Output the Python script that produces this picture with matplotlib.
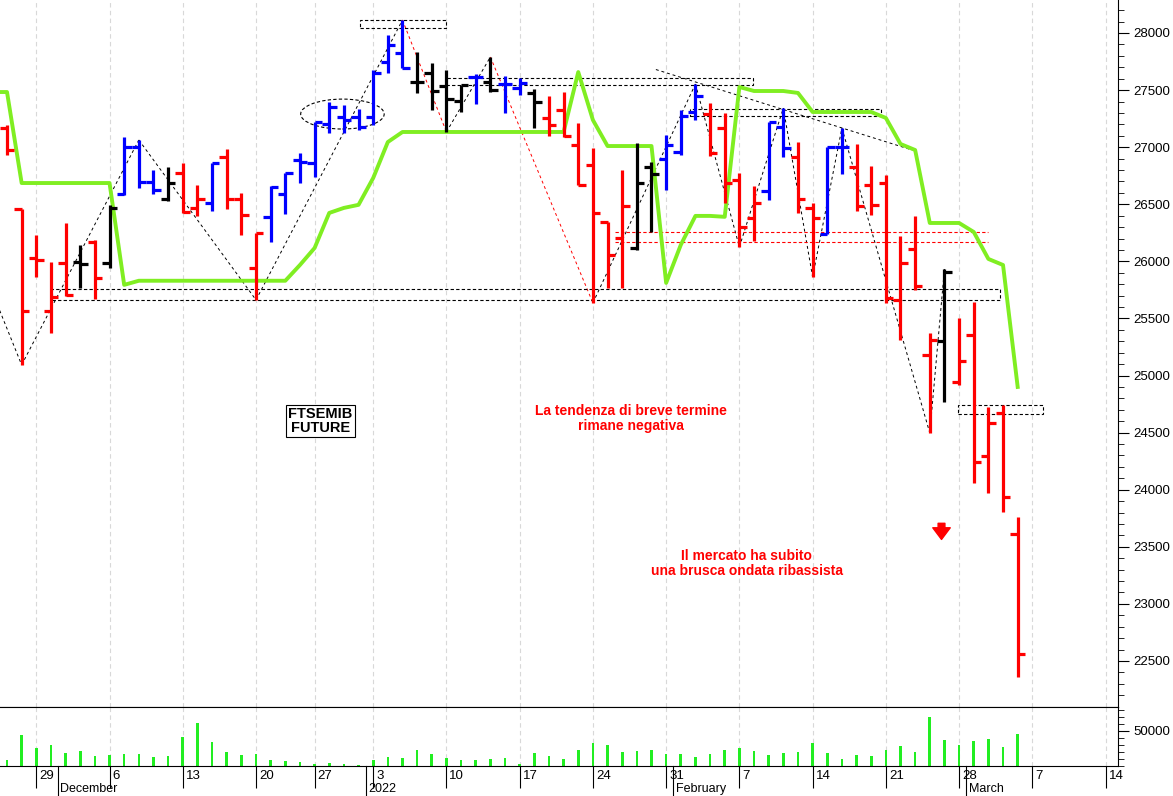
import matplotlib
matplotlib.use("Agg")
import matplotlib.pyplot as plt
from matplotlib.patches import Ellipse, Rectangle
from matplotlib.transforms import blended_transform_factory
import matplotlib.transforms as mt
import numpy as np

plt.rcParams['font.family'] = ['Liberation Sans', 'DejaVu Sans']

opens = [27168,26459,26030,25566,25986,25990,26170,25986,26590,27000,26695,26545,26774,26468,26511,26914,26546,25942,26389,26590,
         26888,26862,27203,27260,27260,27265,27746,27825,27571,27650,27536,27405,27615,27571,27553,27518,27475,27256,27326,27019,
         26844,26345,26205,26117,26827,26897,26958,27308,27291,27168,26713,26380,26616,27177,26914,26468,26240,27002,26827,26669,
         26686,25662,26109,25181,25303,24944,25356,24296,24673,23613]
highs = [27194,26459,26231,25995,26336,26144,26187,26494,27089,27063,26800,26827,26862,26669,26862,26984,26599,26249,26660,26774,
         26949,27221,27396,27370,27330,27676,27982,28114,27834,27737,27676,27545,27641,27790,27623,27606,27510,27448,27483,27212,
         26993,26345,26800,27037,26870,27107,27326,27553,27387,27300,26774,26660,27221,27343,27045,26511,27002,27168,27028,26835,
         26756,26222,26398,25373,25933,25504,25645,24725,24743,23762]
lows = [26932,25093,25863,25373,25697,25767,25671,25942,26581,26643,26590,26529,26424,26400,26441,26459,26231,25662,26170,26415,
        26687,26739,27124,27124,27150,27195,27650,27694,27475,27326,27133,27308,27378,27483,27300,27457,27168,27098,27089,26669,
        25636,25767,25767,26100,26257,26625,26932,27238,26923,26511,26126,26179,26537,26914,26424,25863,26240,26765,26441,26406,
        25636,25312,25750,24497,24769,24918,24060,23972,23806,22360]
closes = [26975,25566,26010,25688,25706,25975,25855,26468,27002,26695,26625,26687,26430,26546,26862,26546,26406,26249,26651,26774,
          26870,27221,27352,27240,27180,27650,27895,27694,27571,27492,27422,27545,27615,27500,27553,27562,27396,27194,27098,26669,
          26424,26056,26485,26686,26765,27019,27273,27448,26949,26686,26301,26511,27221,26993,26546,26380,27002,27002,26485,26494,
          25680,25986,25785,25312,25907,25128,24243,24585,23937,22562]
bar_colors = (['red']*5 + ['black','red','black'] + ['blue']*3 + ['black','red','red','blue','red','red','red']
              + ['blue']*10 + ['black']*4 + ['blue','black','blue','blue','black'] + ['red']*6 + ['black','black']
              + ['blue']*3 + ['red']*4 + ['blue','blue','red','red','blue','blue'] + ['red']*6 + ['black'] + ['red']*5)
green_line = [27483,26686,26686,26686,26686,26686,26686,26686,25794,25830,25830,25830,25830,25830,25830,25830,25830,25830,25830,25830,
              25968,26117,26424,26468,26495,26730,27045,27133,27133,27133,27133,27133,27133,27133,27133,27133,27133,27133,27133,27658,
              27238,27010,27010,27010,27010,25811,26144,26398,26398,26390,27527,27492,27492,27492,27475,27308,27308,27308,27308,27308,
              27256,27028,26975,26336,26336,26336,26257,26021,25968,24900]
vol_px = [180,105,145,135,160,153,168,167,162,162,172,170,112,68,128,156,166,163,180,183,
          188,192,190,194,195,181,172,176,150,163,176,180,181,177,175,192,160,168,178,150,
          130,135,157,153,150,163,162,172,162,150,145,155,167,160,157,130,160,178,167,168,
          150,138,158,50,120,135,123,118,142,103]
volumes = [(198 - v) * 476 for v in vol_px]

tick_idx = [2,7,12,17,21,25,30,35,40,45,50,55,60,65,70,75]
tick_labels = ['29','6','13','20','27','3','10','17','24','31','7','14','21','28','7','14']
month_idx = [4,25,46,66]
month_labels = ['December','2022','February','March']

pivots = [(1,'L'),(9,'H'),(17,'L'),(27,'H'),(30,'L'),(33,'H'),(40,'L'),(47,'H'),(50,'L'),(53,'H'),(55,'L'),(57,'H'),(63,'L'),(64,'H')]
seg_red = {4,6}

fig = plt.figure(figsize=(11.73,7.96), dpi=100)
ax = fig.add_axes([0,0.112,0.953,0.888])
axv = fig.add_axes([0,0.038,0.953,0.074], sharex=ax)

x = np.arange(len(opens))
tw = 0.5
for i in x:
    c = bar_colors[i]
    ax.plot([i,i],[lows[i],highs[i]],color=c,lw=2.3,solid_capstyle='butt',zorder=4)
    ax.plot([i-tw,i],[opens[i],opens[i]],color=c,lw=2.3,solid_capstyle='butt',zorder=4)
    ax.plot([i,i+tw],[closes[i],closes[i]],color=c,lw=2.3,solid_capstyle='butt',zorder=4)

ax.plot(np.concatenate([[-0.5],x]), [green_line[0]]+green_line, color='#80ee22', lw=2.8, zorder=3)

px = [-0.5]; py=[25570]
for (i,t) in pivots:
    px.append(i); py.append(lows[i] if t=='L' else highs[i])
for k in range(len(px)-1):
    col = 'red' if k in seg_red else 'black'
    ax.plot(px[k:k+2], py[k:k+2], color=col, lw=0.7, ls=(0,(3,3)), zorder=2)
ax.plot([44.3,61.8],[27680,26975],color='black',lw=0.7,ls=(0,(3,3)),zorder=2)

def hbox(x0,x1,y0,y1,col='black'):
    ax.add_patch(Rectangle((x0,y0),x1-x0,y1-y0,fill=False,ec=col,lw=0.8,ls=(0,(3,2)),zorder=2))
hbox(24.1,30.0,28044,28114)
hbox(30.0,50.9,27541,27606)
hbox(46.6,59.7,27273,27335)
hbox(3.1,67.8,25662,25758)
ax.plot([41.5,67.0],[26257,26257],color='red',lw=0.8,ls=(0,(3,2)))
ax.plot([41.5,67.0],[26170,26170],color='red',lw=0.8,ls=(0,(3,2)))
hbox(64.9,70.7,24665,24743)
ax.add_patch(Ellipse((22.9,27290),5.7,262,fill=False,ec='black',lw=0.8,ls=(0,(3,2))))

ax.text(21.4,24600,'FTSEMIB\nFUTURE',ha='center',va='center',fontsize=10.5,fontweight='bold',
        linespacing=1.0,bbox=dict(fc='white',ec='black',lw=0.8,pad=1.5))
ax.text(42.6,24620,'La tendenza di breve termine\nrimane negativa',ha='center',va='center',color='red',
        fontsize=10,fontweight='bold',linespacing=1.1)
ax.text(50.5,23350,'Il mercato ha subito\nuna brusca ondata ribassista',ha='center',va='center',color='red',
        fontsize=10,fontweight='bold',linespacing=1.1)
ax.annotate('',xy=(63.8,23540),xytext=(63.8,23730),arrowprops=dict(arrowstyle='simple,head_width=0.9,head_length=0.6,tail_width=0.35',color='red',mutation_scale=14))

ax.set_xlim(-0.478,75.84)
ax.set_ylim(22098,28289)
ax.yaxis.tick_right()
ax.set_yticks(np.arange(22500,28001,500))
ax.set_yticks(np.arange(22200,28300,100),minor=True)
ax.tick_params(axis='y',which='major',length=8,labelsize=9.5,pad=3)
ax.tick_params(axis='y',which='minor',length=4)
ax.tick_params(axis='x',bottom=False,labelbottom=False)
for t in tick_idx:
    ax.axvline(t,color='#d8d8d8',lw=0.8,ls=(0,(4,3)),zorder=0)
    axv.axvline(t,color='#d8d8d8',lw=0.8,ls=(0,(4,3)),zorder=0)
for s in ['left','top']:
    ax.spines[s].set_visible(False)

axv.bar(x, volumes, width=0.18, color='#22ee22')
axv.set_ylim(0,84300)
axv.yaxis.tick_right()
axv.set_yticks([50000])
axv.set_yticks(np.arange(0,84000,10000),minor=True)
axv.tick_params(axis='y',which='major',length=8,labelsize=9.5)
axv.tick_params(axis='y',which='minor',length=4)
axv.spines['left'].set_visible(False)
axv.set_xticks(tick_idx)
axv.set_xticklabels(tick_labels,ha='left')
axv.tick_params(axis='x',length=16,direction='out',labelsize=9.5,pad=-13)
off = mt.ScaledTranslation(3/100,0,fig.dpi_scale_trans)
for lab in axv.get_xticklabels():
    lab.set_transform(lab.get_transform()+off)

tr = blended_transform_factory(axv.transData, fig.transFigure)
for mi, ml in zip(month_idx, month_labels):
    xx = mi - 0.5
    axv.plot([xx,xx],[0.0,0.038],transform=tr,color='black',lw=0.8,clip_on=False)
    axv.text(xx+0.15,0.001,ml,transform=tr,fontsize=9,va='bottom',ha='left')

fig.savefig('out.png',dpi=100)
